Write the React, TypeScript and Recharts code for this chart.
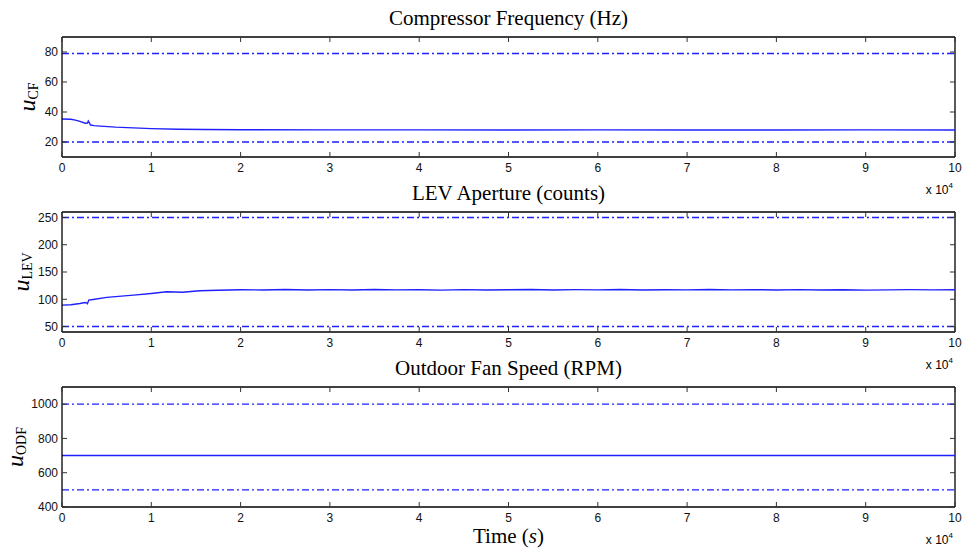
import React from 'react';
import { LineChart, Line, XAxis, YAxis, ReferenceLine } from 'recharts';

// time axis (seconds), shown as x 10^4
const timeTicks = [0, 10000, 20000, 30000, 40000, 50000, 60000, 70000, 80000, 90000, 100000];

// compressor frequency (Hz)
const cfTime = [0, 1000, 1500, 2000, 2600, 2850, 2950, 3200, 3600, 4300, 6000, 8000, 10000, 13000, 16000, 20000, 30000, 40000, 50000, 60000, 70000, 80000, 90000, 100000];
const cfValue = [35.3, 35.2, 34.6, 33.8, 32.5, 32.6, 34.0, 31.3, 30.9, 30.6, 29.9, 29.4, 28.9, 28.5, 28.3, 28.2, 28.1, 28.1, 28.0, 28.1, 28.0, 28.0, 28.1, 28.0];
const cfLimits = [20, 79];
const cfTicks = [20, 40, 60, 80];

// LEV aperture (counts)
const levTime = [0, 1000, 2000, 2600, 2800, 2850, 3000, 3500, 5000, 8000, 10000, 11700, 13500, 15400, 17500, 20000,
  22500, 25000, 27500, 30000, 32500, 35000, 37500, 40000, 42500, 45000, 47500, 50000, 52500, 55000, 57500, 60000,
  62500, 65000, 67500, 70000, 72500, 75000, 77500, 80000, 82500, 85000, 87500, 90000, 92500, 95000, 97500, 100000];
const levValue = [89.3, 90.0, 92.3, 94.0, 93.0, 92.0, 98.5, 99.7, 103.4, 107.7, 110.7, 113.8, 113.0, 115.6, 116.5, 117.5,
  117.0, 117.8, 116.9, 117.6, 117.1, 117.9, 117.2, 117.5, 116.8, 117.6, 117.0, 117.4, 117.9, 117.1, 117.6, 117.3,
  117.8, 117.0, 117.5, 117.2, 117.9, 117.3, 117.7, 117.1, 117.6, 116.9, 117.4, 116.8, 117.3, 117.7, 117.2, 117.4];
const levLimits = [50, 250];
const levTicks = [50, 100, 150, 200, 250];

// outdoor fan speed (RPM)
const odfTime = [0, 100000];
const odfValue = [700, 700];
const odfLimits = [500, 1000];
const odfTicks = [400, 600, 800, 1000];

const W = 967;
const PLOT_LEFT = 62;
const PLOT_RIGHT = 955;
const PLOT_TOP = 37;
const PLOT_H = 120;
const CHART_H = 175;
const TICK_LEN = 5;
const BLUE = '#1f1fff';
const SANS = '"Liberation Sans", Arial, sans-serif';
const SERIF = '"Liberation Serif", "Times New Roman", serif';

const yTick = (props: any) => {
  const { x, y, payload } = props;
  return (
    <g>
      <line x1={PLOT_LEFT} x2={PLOT_LEFT + TICK_LEN} y1={y} y2={y} stroke="#333" />
      <line x1={PLOT_RIGHT - TICK_LEN} x2={PLOT_RIGHT} y1={y} y2={y} stroke="#333" />
      <text x={x} y={y} dy="0.36em" textAnchor="end" fontSize={12} fontFamily={SANS} fill="#111">
        {payload.value}
      </text>
    </g>
  );
};

const xTick = (props: any) => {
  const { x, y, payload } = props;
  const bottom = PLOT_TOP + PLOT_H;
  return (
    <g>
      <line x1={x} x2={x} y1={bottom - TICK_LEN} y2={bottom} stroke="#333" />
      <line x1={x} x2={x} y1={PLOT_TOP} y2={PLOT_TOP + TICK_LEN} stroke="#333" />
      <text x={x} y={y} dy="0.71em" textAnchor="middle" fontSize={12} fontFamily={SANS} fill="#111">
        {payload.value / 10000}
      </text>
    </g>
  );
};

interface PanelProps {
  time: number[];
  values: number[];
  limits: number[];
  domain: [number, number];
  ticks: number[];
  top: number;
  title: string;
  sub: string;
  labelX: number;
}

function Panel({ time, values, limits, domain, ticks, top, title, sub, labelX }: PanelProps) {
  const data = time.map((t, i) => ({ t, v: values[i] }));
  const midY = top + PLOT_TOP + PLOT_H / 2;
  return (
    <>
      <div style={{ position: 'absolute', left: 0, top }}>
        <LineChart width={W} height={CHART_H} data={data} margin={{ top: PLOT_TOP, right: W - PLOT_RIGHT, bottom: 0, left: 0 }}>
          <XAxis
            dataKey="t"
            type="number"
            domain={[0, 100000]}
            ticks={timeTicks}
            interval={0}
            height={18}
            tickSize={0}
            tickMargin={6}
            tickLine={false}
            axisLine={{ stroke: '#000', strokeWidth: 1.3 }}
            tick={xTick}
          />
          <YAxis
            type="number"
            domain={domain}
            ticks={ticks}
            interval={0}
            width={PLOT_LEFT}
            tickSize={0}
            tickMargin={4}
            tickLine={false}
            axisLine={{ stroke: '#000', strokeWidth: 1.3 }}
            tick={yTick}
          />
          <ReferenceLine y={domain[1]} stroke="#000" strokeWidth={1.3} />
          <ReferenceLine x={100000} stroke="#000" strokeWidth={1.3} />
          {limits.map((l) => (
            <ReferenceLine key={l} y={l} stroke={BLUE} strokeWidth={1.4} strokeDasharray="7 3 2 3" />
          ))}
          <Line type="linear" dataKey="v" stroke={BLUE} strokeWidth={1.4} dot={false} isAnimationActive={false} />
        </LineChart>
      </div>
      <div
        style={{
          position: 'absolute', left: PLOT_LEFT, width: PLOT_RIGHT - PLOT_LEFT, top: top + 7,
          textAlign: 'center', fontFamily: SERIF, fontSize: 21, lineHeight: '22px', color: '#000',
        }}
      >
        {title}
      </div>
      <div
        style={{
          position: 'absolute', left: labelX, top: midY, transform: 'translate(-50%, -50%) rotate(-90deg)',
          whiteSpace: 'nowrap', fontFamily: SERIF, color: '#000', lineHeight: 1,
        }}
      >
        <i style={{ fontSize: 24 }}>u</i>
        <span style={{ fontSize: 14, position: 'relative', top: 3 }}>{sub}</span>
      </div>
      <div
        style={{
          position: 'absolute', right: W - PLOT_RIGHT + 2, top: top + PLOT_TOP + PLOT_H + 26,
          fontFamily: SANS, fontSize: 12, lineHeight: '14px', color: '#000', whiteSpace: 'nowrap',
        }}
      >
        x 10<span style={{ fontSize: 8, position: 'relative', top: -6 }}>4</span>
      </div>
    </>
  );
}

export default function App() {
  return (
    <div style={{ position: 'absolute', left: 0, top: 0, width: W, height: 550, background: '#fff', overflow: 'hidden' }}>
      <Panel time={cfTime} values={cfValue} limits={cfLimits} domain={[10, 90]} ticks={cfTicks} top={0}
        title="Compressor Frequency (Hz)" sub="CF" labelX={27} />
      <Panel time={levTime} values={levValue} limits={levLimits} domain={[40, 260]} ticks={levTicks} top={175}
        title="LEV Aperture (counts)" sub="LEV" labelX={21} />
      <Panel time={odfTime} values={odfValue} limits={odfLimits} domain={[400, 1100]} ticks={odfTicks} top={350}
        title="Outdoor Fan Speed (RPM)" sub="ODF" labelX={15} />
      <div
        style={{
          position: 'absolute', left: PLOT_LEFT, width: PLOT_RIGHT - PLOT_LEFT, top: 525,
          textAlign: 'center', fontFamily: SERIF, fontSize: 21, lineHeight: '22px', color: '#000',
        }}
      >
        Time (<i>s</i>)
      </div>
    </div>
  );
}
